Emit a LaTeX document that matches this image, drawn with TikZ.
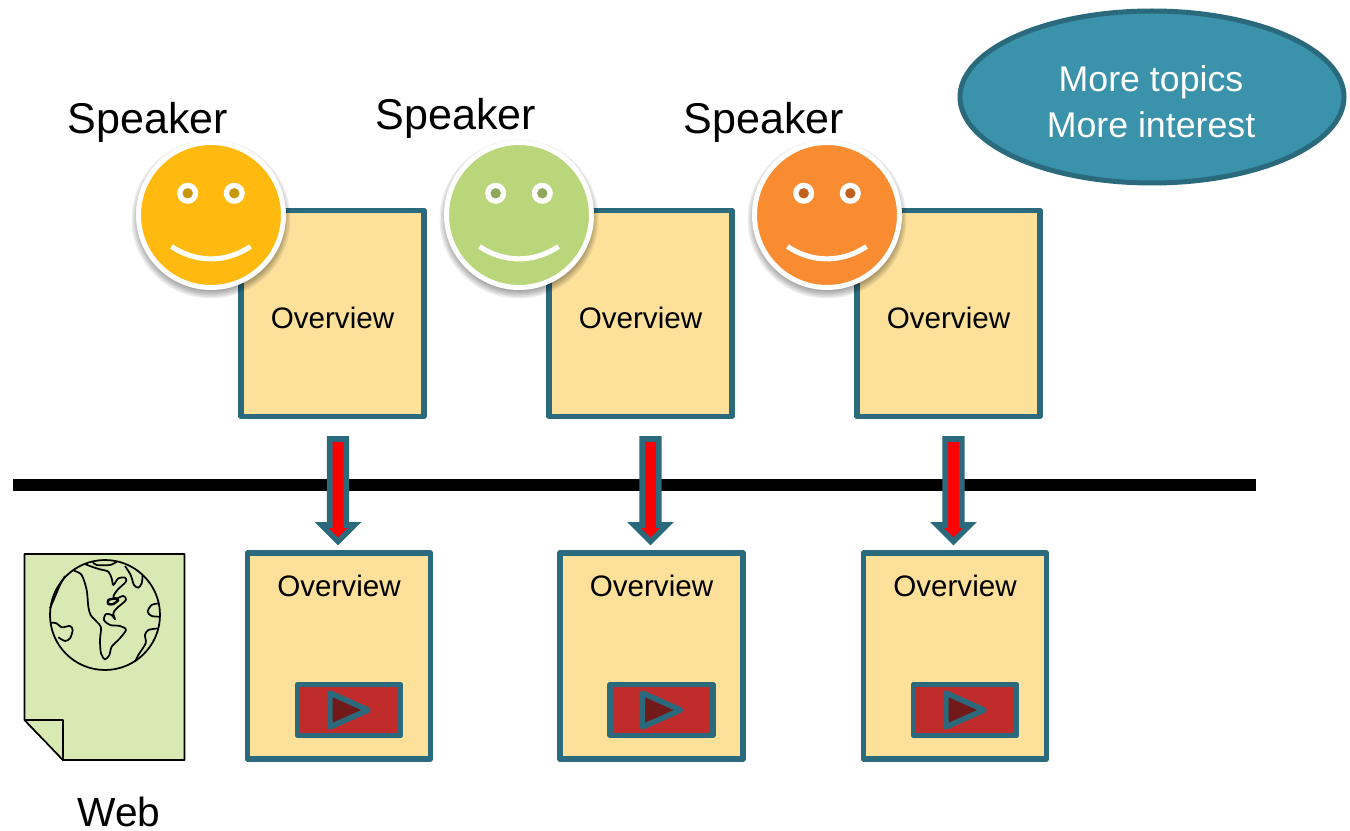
\documentclass[tikz,border=0pt]{standalone}
\usepackage{fontspec}
\setmainfont{Liberation Sans}
\usetikzlibrary{calc}
\definecolor{teal1}{HTML}{2A6A7C}
\definecolor{boxfill}{HTML}{FDE09A}
\definecolor{pagefill}{HTML}{D9E9B3}
\definecolor{ellfill}{HTML}{3A92AB}
\definecolor{ellline}{HTML}{2A6A7C}
\definecolor{vidfill}{HTML}{C02C2C}
\definecolor{vidplay}{HTML}{721A1A}
\definecolor{faceA}{HTML}{FFB90F}
\definecolor{eyeA}{HTML}{C8960C}
\definecolor{faceB}{HTML}{B9D77A}
\definecolor{eyeB}{HTML}{8FA85C}
\definecolor{faceC}{HTML}{F98B31}
\definecolor{eyeC}{HTML}{C0601C}
\tikzset{
  x=0.75pt,y=-0.75pt,
  ovbox/.style={draw=teal1,fill=boxfill,line width=4.1pt,line join=round,rectangle,
    minimum width=137.25pt,minimum height=154.5pt,inner sep=0pt,outer sep=0pt},
  ovtext/.style={font=\fontsize{22.2}{26}\selectfont,text=black,inner sep=0pt},
  bigtext/.style={font=\fontsize{32.3}{36}\selectfont,text=black,inner sep=0pt},
  webtext/.style={font=\fontsize{30.5}{36}\selectfont,text=black,inner sep=0pt},
  elltext/.style={font=\fontsize{26.8}{30}\selectfont,text=white,inner sep=0pt},
  vidbox/.style={draw=teal1,fill=vidfill,line width=4.1pt,line join=round,rectangle,
    minimum width=77.25pt,minimum height=38.25pt,inner sep=0pt,outer sep=0pt},
  playtri/.style={draw=teal1,fill=vidplay,line width=4.1pt,line join=round},
  blockarrow/.style={draw=teal1,fill=red,line width=4.2pt,miter limit=10},
  globeline/.style={draw=black,line width=1.3pt,line join=round},
}
% face: centre x y, face colour, eye colour
\newcommand{\smiley}[5]{%
  \foreach \r in {72,73.5,75,76.5,78,79.5}{\fill[black,opacity=0.07] (#1,#2+4) circle[radius=\r*0.75pt];}
  \node[circle,fill=#3,draw=white,line width=3.75pt,minimum size=108.75pt,inner sep=0pt,outer sep=0pt] (#5) at (#1,#2) {};
  \fill[white] (#1-23.3,#2-21.7) circle[radius=7.9pt];
  \fill[white] (#1+23.3,#2-21.7) circle[radius=7.9pt];
  \fill[#4] (#1-23.3,#2-21.7) circle[radius=3.9pt];
  \fill[#4] (#1+23.3,#2-21.7) circle[radius=3.9pt];
  \draw[white,line width=3.8pt] (#1-39.5,#2+31.5) .. controls (#1-15,#2+48) and (#1+15,#2+48) .. (#1+39.5,#2+31.5);
}
% block arrow starting from top coordinate, ending at bottom coordinate
\newcommand{\blockarr}[2]{%
  \path[blockarrow] (#1) -- ++(8.3,0) |- ($(#2)+(16.5,-16.5)$) -- (#2) -- ($(#2)+(-16.5,-16.5)$) -| ($(#1)+(-8.3,0)$) -- cycle;
}
% video: centre x y of box, name
\newcommand{\video}[3]{%
  \node[vidbox] (#3) at (#1,#2) {};
  \path[playtri] ($(#3.center)+(-19,-17)$) -- ($(#3.center)+(19,0)$) -- ($(#3.center)+(-19,17)$) -- cycle;
}
\begin{document}
\begin{tikzpicture}
\useasboundingbox (0,0) rectangle (1350,831);

% timeline
\coordinate (lineL) at (13,484.5);
\coordinate (lineR) at (1256,484.5);
\draw[black,line width=9pt] (lineL) -- (lineR);

% top boxes
\node[ovbox] (top1) at (332.5,313.5) {};
\node[ovbox] (top2) at (640.5,313.5) {};
\node[ovbox] (top3) at (948.5,313.5) {};
\node[ovtext] (tt1) at (332.5,318) {Overview};
\node[ovtext] (tt2) at (640.5,318) {Overview};
\node[ovtext] (tt3) at (948.5,318) {Overview};

% bottom boxes
\node[ovbox] (bot1) at (339,656) {};
\node[ovbox] (bot2) at (651.5,656) {};
\node[ovbox] (bot3) at (955,656) {};
\node[ovtext] (bt1) at (339,586) {Overview};
\node[ovtext] (bt2) at (651.5,586) {Overview};
\node[ovtext] (bt3) at (955,586) {Overview};

\video{349}{710}{v1}
\video{661.5}{710}{v2}
\video{965}{710}{v3}

% arrows
\coordinate (a1s) at (338,439);
\coordinate (a1e) at (338,541.5);
\coordinate (a2s) at (650.5,439);
\coordinate (a2e) at (650.5,541.5);
\coordinate (a3s) at (953.5,439);
\coordinate (a3e) at (953.5,541.5);
\blockarr{a1s}{a1e}
\blockarr{a2s}{a2e}
\blockarr{a3s}{a3e}

% faces
\smiley{211}{215}{faceA}{eyeA}{f1}
\smiley{519}{215}{faceB}{eyeB}{f2}
\smiley{827}{215}{faceC}{eyeC}{f3}
\node[bigtext] (s1) at (148,122.5) {Speaker};
\node[bigtext] (s2) at (456,118.5) {Speaker};
\node[bigtext] (s3) at (764,122.5) {Speaker};

% ellipse
\draw[draw=ellline,fill=ellfill,line width=3.75pt] (1152,97) ellipse[x radius=144pt,y radius=64.5pt];
\node[elltext] (e1) at (1151,82) {More topics};
\node[elltext] (e2) at (1151,124.5) {More interest};

% web page
\draw[black,fill=pagefill,line width=1.2pt,line join=round] (24.5,554) -- (184.5,554) -- (184.5,760) -- (63,760) -- (24.5,720) -- cycle;
\draw[black,fill=pagefill,line width=1.2pt,line join=round] (24.5,720) -- (63,720) -- (63,760) -- cycle;
\begin{scope}[shift={(0,540)},x=0.25pt,y=-0.25pt]
  \draw[globeline] (315,225) circle[radius=41.25pt];
  \draw[globeline] plot[smooth] coordinates {(222,92)(245,105)(260,150)(265,200)(272,225)(290,245)(303,262)(300,300)(303,340)(315,358)(328,345)(335,320)(355,300)(378,270)(360,258)(330,255)(312,240)(318,222)(335,225)(345,238)(340,220)(350,205)(378,180)(370,168)(350,175)(340,170)(352,150)(378,125)(375,113)(355,115)(340,135)(335,115)(325,95)(300,88)(275,80)(255,72)};
  \draw[globeline] plot[smooth] coordinates {(278,66)(290,75)(330,75)(350,65)};
  \draw[globeline,line width=1.8pt] plot[smooth cycle] coordinates {(325,180)(345,176)(355,180)(340,192)(325,192)};
  \draw[globeline] plot[smooth] coordinates {(375,78)(392,105)(402,135)(415,143)(425,130)(428,105)};
  \draw[globeline] plot[smooth] coordinates {(478,190)(455,195)(443,215)(455,228)(480,230)};
  \draw[globeline] plot[smooth] coordinates {(476,265)(445,270)(435,285)(437,310)(415,345)(405,365)};
  \draw[globeline] plot[smooth] coordinates {(195,108)(180,135)(165,170)(150,205)};
  \draw[globeline] plot[smooth] coordinates {(152,248)(170,250)(185,262)(210,258)(218,270)(210,295)(195,303)(175,292)};
\end{scope}
\node[webtext] (web) at (119,812) {Web};
\end{tikzpicture}
\end{document}
